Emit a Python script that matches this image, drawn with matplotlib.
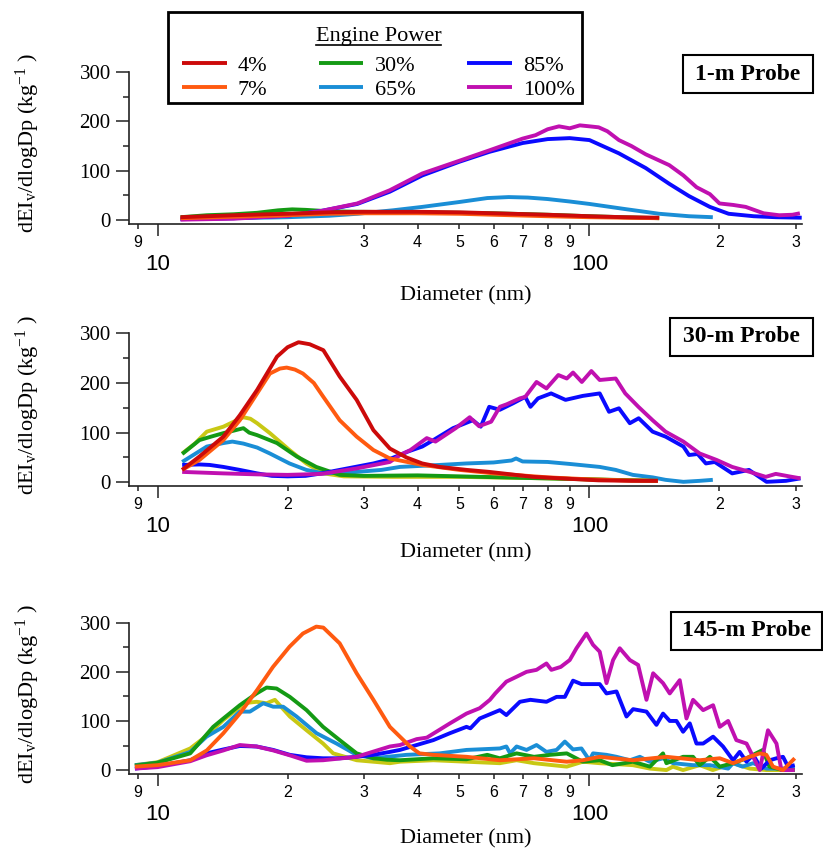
import numpy as np
import matplotlib
matplotlib.use('Agg')
import matplotlib.pyplot as plt
from matplotlib.ticker import FixedLocator, FixedFormatter
from matplotlib.lines import Line2D
from matplotlib.patches import Rectangle

plt.rcParams['font.family'] = ['Liberation Serif', 'DejaVu Serif']
plt.rcParams['mathtext.fontset'] = 'custom'
plt.rcParams['mathtext.rm'] = 'Liberation Serif'
plt.rcParams['mathtext.it'] = 'Liberation Serif:italic'

powers = ['4%', '7%', '30%', '65%', '85%', '100%']
probes = ['1-m Probe', '30-m Probe', '145-m Probe']

# (diameter nm, dEIv/dlogDp) pairs for each engine power
p1_red = [(11.3, 5), (13, 7), (15, 9), (18, 11), (20, 12), (25, 15), (30, 16), (40, 16), (50, 15),
          (60, 13), (80, 10), (100, 7), (120, 5), (145, 4)]
p1_orange = [(11.3, 3), (15, 6), (20, 9), (25, 12), (30, 13), (40, 13), (50, 12), (60, 10), (80, 7),
             (100, 5), (120, 4), (145, 3)]
p1_green = [(11.3, 5), (13, 9), (15, 11), (17, 14), (19, 19), (20.5, 21), (22, 20), (25, 17), (30, 16),
            (40, 15), (50, 14), (60, 13), (80, 10), (100, 7), (120, 5), (145, 3)]
p1_ltblue = [(11.3, 2), (15, 3), (20, 5), (25, 8), (29, 12), (35, 19), (41, 26), (50, 36), (58, 44),
             (65, 46), (72, 45), (80, 42), (90, 37), (100, 32), (120, 22), (145, 12), (170, 7), (193, 5)]
p1_blue = [(11.3, 1), (15, 3), (20, 8), (24, 18), (29, 32), (34.5, 57), (41, 90), (50, 118), (58.6, 138),
           (70, 156), (80, 164), (90, 166), (100, 162), (117, 135), (135, 105), (153, 73), (170, 48),
           (190, 26), (210, 12), (240, 7), (270, 5), (310, 4)]
p1_magenta = [(11.3, 0), (15, 2), (20, 8), (24, 18), (29, 33), (34.5, 60), (41, 94), (50, 120), (58.6, 141),
              (65, 155), (70, 165), (75, 172), (80, 184), (85, 190), (90, 186), (95, 192), (100, 190),
              (105, 188), (110, 180), (117, 162), (125, 150), (135, 133), (153, 111), (165, 90), (177, 66),
              (190, 52), (200, 33), (215, 30), (230, 26), (253, 13), (275, 9), (295, 10), (307, 13)]

p2_red = [(11.4, 25), (12.5, 52), (14.2, 92), (15.5, 135), (17.0, 186), (18.9, 253), (20, 272), (21.2, 282),
          (22.5, 278), (24.2, 266), (26.4, 213), (28.9, 166), (31.6, 105), (34.5, 68), (37.7, 50), (41, 38),
          (45, 31), (52, 25), (58.6, 21), (74, 11), (90, 7), (105, 4), (125, 3), (144, 3)]
p2_orange = [(11.4, 25), (12.5, 45), (14.2, 85), (15.5, 125), (17, 179), (18.2, 219), (19.2, 229),
             (19.9, 231), (20.8, 227), (21.7, 219), (23, 200), (24.2, 172), (26.4, 125), (28.9, 92),
             (31.6, 65), (34.5, 48), (41, 35), (50, 25), (60, 18), (80, 10), (100, 6), (120, 4), (144, 3)]
p2_yellow = [(11.4, 58), (12.2, 78), (13, 102), (14.2, 112), (15, 122), (15.8, 131), (16.4, 128), (17, 119),
             (18.2, 99), (20.2, 65), (22.1, 38), (24.2, 18), (27, 12), (35, 11), (50, 11), (80, 8),
             (110, 5), (144, 3)]
p2_green = [(11.4, 57), (12.5, 85), (13.3, 92), (14.2, 99), (15, 104), (15.8, 109), (16.3, 100), (17, 95),
            (18.9, 79), (21, 52), (23.3, 31), (26.4, 15), (30, 13), (40, 14), (50, 12), (70, 9), (100, 6),
            (144, 3)]
p2_ltblue = [(11.4, 41), (13, 72), (14.2, 79), (14.9, 82), (15.8, 78), (17, 70), (18.2, 58), (20.2, 38),
             (22.1, 25), (24.2, 18), (28, 20), (33, 25), (36.4, 31), (45, 35), (51.9, 38), (60, 40),
             (66, 44), (67.6, 48), (70, 42), (80, 41), (90, 37), (105.6, 31), (115, 25), (126, 15),
             (140, 10), (150, 5), (165, 1), (180, 3), (193, 5)]
p2_blue = [(11.4, 35), (12.5, 36), (13.2, 35), (14.2, 31), (15.5, 25), (17, 18), (18.4, 13), (20, 12),
           (22, 13), (24, 18), (26.4, 25), (31.6, 38), (34, 45), (36.4, 55), (38, 62), (41, 72), (43.5, 85),
           (48.3, 109), (53.7, 125), (56, 112), (58.6, 152), (62, 146), (66.5, 159), (71, 172), (73, 152),
           (76, 169), (81.5, 179), (88, 166), (96.5, 174), (105.6, 179), (111, 142), (117, 149), (124, 119),
           (130, 129), (140, 102), (150, 92), (165, 72), (170, 55), (178, 57), (186, 38), (195, 41),
           (214, 18), (234, 25), (257, 1), (285, 3), (308, 8)]
p2_magenta = [(11.4, 21), (14.2, 18), (17, 16), (20, 15), (24, 17), (28.9, 28), (34.5, 41), (36.4, 55),
              (38.5, 65), (42, 89), (44, 82), (49, 109), (52.8, 131), (55.5, 113), (59.2, 122), (62, 152),
              (64.3, 157), (69, 169), (71, 172), (75.4, 202), (79.5, 189), (84.7, 216), (88.6, 209),
              (91.6, 221), (96, 202), (101, 224), (105.6, 206), (115, 209), (121, 179), (129.8, 152),
              (140, 125), (150, 102), (165, 82), (180, 58), (197, 45), (214, 31), (235, 21), (256, 11),
              (270, 17), (290, 12), (308, 8)]

p3_orange = [(8.86, 7), (10, 10), (11.9, 20), (13, 40), (14.2, 75), (15.5, 115), (17, 163), (18.5, 210),
             (20.2, 251), (21.7, 278), (23.3, 292), (24.2, 290), (26.4, 258), (28.9, 197), (31.6, 143),
             (34.5, 88), (36.4, 68), (38.4, 48), (40.4, 34), (43.5, 31), (51.9, 27), (62, 20), (74.4, 24),
             (88.6, 17), (96.5, 20), (105.6, 27), (126, 20), (150.7, 27), (180, 20), (200.3, 24), (215, 14),
             (235, 27), (247.8, 34), (256.8, 31), (266, 7), (280.6, 0), (298.7, 24)]
p3_yellow = [(8.86, 10), (10, 16), (11.9, 44), (13, 70), (14.2, 102), (15.5, 128), (15.78, 136),
             (16.95, 139), (17.88, 136), (18.69, 143), (20.24, 109), (22.13, 81), (24.16, 54), (25.5, 34),
             (28.9, 20), (34.5, 14), (36.4, 17), (43.5, 20), (51.9, 17), (62, 14), (67.8, 20), (74.4, 14),
             (88.6, 7), (96.5, 17), (105.6, 14), (126, 10), (138, 3), (150.7, 0), (156, 7), (164.7, 0),
             (180, 10), (193, 0), (215, 14), (235, 3), (257, 0), (298.7, 0)]
p3_green = [(8.86, 9), (10, 15), (11.9, 34), (13.45, 88), (14.2, 105), (15.5, 132), (16.95, 156),
            (17.88, 168), (18.86, 166), (20.24, 149), (22.13, 122), (24.16, 88), (26.4, 61), (28.9, 34),
            (31.6, 24), (34, 21), (36.4, 20), (43.5, 24), (51.9, 22), (58, 31), (62, 24), (67.8, 34),
            (74.4, 27), (81, 31), (88.6, 34), (96.5, 17), (105.6, 20), (113, 10), (126, 17), (138, 7),
            (148, 34), (150.7, 14), (164.7, 27), (173.7, 27), (180, 10), (190, 27), (200.3, 7), (215, 14),
            (231, 24), (243, 34), (252, 41), (261, 7), (280.6, 0), (298.7, 0)]
p3_ltblue = [(8.86, 10), (10, 15), (11.9, 37), (12.98, 68), (14.2, 88), (15.5, 119), (16.36, 119),
             (17.56, 136), (18.52, 129), (19.53, 129), (20.98, 109), (23.34, 75), (25.96, 54), (28.88, 31),
             (31.6, 24), (37.7, 31), (45, 34), (51.9, 41), (62, 44), (64.2, 48), (65.5, 34), (67.8, 48),
             (71.5, 41), (75.4, 51), (79.5, 37), (83.9, 41), (87.7, 58), (91.6, 42), (95.8, 44), (100, 20),
             (101.9, 34), (109.5, 31), (115.5, 27), (124, 20), (130.8, 27), (137.9, 17), (148, 24),
             (156.2, 14), (173.7, 10), (189.9, 10), (209.4, 3), (215, 14), (226, 7), (239.3, 14),
             (256.8, 3), (280.6, 3), (298.7, 7)]
p3_blue = [(8.86, 3), (10, 8), (11.9, 20), (12.98, 34), (14.2, 42), (15.5, 49), (16.95, 48), (18.52, 41),
           (20.24, 31), (22.13, 26), (24.16, 24), (26.4, 24), (28.88, 27), (31.6, 31), (34.5, 37),
           (36.4, 41), (43.5, 61), (47.5, 75), (51.9, 88), (53, 85), (55.7, 105), (62, 122), (64.2, 112),
           (69, 139), (73, 143), (79.5, 139), (83.9, 149), (87.7, 149), (91.6, 182), (95.8, 175),
           (105.6, 175), (109.5, 156), (115.5, 160), (121.8, 109), (126.2, 124), (135.5, 119), (142.9, 92),
           (148, 115), (153.4, 100), (159, 100), (164.7, 78), (170.7, 95), (176.9, 54), (183.3, 54),
           (193.3, 68), (203.8, 48), (215, 20), (222.7, 37), (231, 17), (239.3, 31), (250, 3), (261.4, 20),
           (271, 24), (280.6, 27), (288.2, 7), (298.7, 10)]
p3_magenta = [(8.86, 3), (10, 6), (11.9, 18), (12.98, 30), (14.2, 40), (15.5, 51), (16.95, 48), (18.52, 40),
              (20.24, 30), (22.13, 19), (24.16, 20), (28.88, 27), (34.5, 48), (36.4, 51), (39.8, 63),
              (42, 66), (44.2, 78), (47.5, 95), (51.9, 115), (55.7, 126), (58.8, 143), (60.5, 156),
              (64.2, 180), (67.8, 190), (71.5, 200), (75.4, 204), (79.5, 217), (81.6, 204), (85.8, 210),
              (90, 224), (93.3, 248), (98.4, 278), (101.9, 255), (105.6, 241), (109.5, 177), (113.4, 224),
              (117.5, 248), (124, 224), (129.6, 214), (135.5, 143), (140.4, 197), (148, 177), (153.4, 156),
              (161.8, 183), (167.7, 105), (173.7, 143), (183.3, 122), (193.3, 132), (200.3, 88),
              (209.4, 100), (218.8, 61), (231, 54), (247.8, 0), (259, 81), (271, 54), (278.2, 0),
              (298.7, 0)]

RED = '#cc0a0a'
ORANGE = '#ff5a10'
GREEN = '#149a14'
LTBLUE = '#1a8ed6'
BLUE = '#0a0aff'
MAGENTA = '#c010b0'
YELLOW = '#c8c814'

# drawing order, bottom to top
panels = [
    [(p1_ltblue, '65%', LTBLUE), (p1_green, '30%', GREEN), (p1_blue, '85%', BLUE),
     (p1_magenta, '100%', MAGENTA), (p1_orange, '7%', ORANGE), (p1_red, '4%', RED)],
    [(p2_yellow, None, YELLOW), (p2_ltblue, '65%', LTBLUE), (p2_green, '30%', GREEN), (p2_blue, '85%', BLUE),
     (p2_magenta, '100%', MAGENTA), (p2_orange, '7%', ORANGE), (p2_red, '4%', RED)],
    [(p3_yellow, None, YELLOW), (p3_ltblue, '65%', LTBLUE), (p3_green, '30%', GREEN), (p3_blue, '85%', BLUE),
     (p3_magenta, '100%', MAGENTA), (p3_orange, '7%', ORANGE)],
]

W, H = 823, 852
fig = plt.figure(figsize=(W / 100, H / 100), dpi=100)

# axes rectangles in pixels: left, top (300 line), right, bottom spine
rects = [(129.3, 72.3, 801.7, 223.6), (129.3, 333.3, 801.7, 486.3), (129.3, 622.7, 801.7, 774.0)]
boxes = [(682.7, 55.0, 812.7, 93.3), (670.0, 318.0, 813.0, 356.0), (670.7, 611.7, 821.7, 650.0)]
xlabel_y = [-0.416, -0.374, -0.367]
legend_box = (168.3, 11.7, 582.3, 103.3)


def add_box(x0, y0, x1, y1, lw):
    fig.add_artist(Rectangle((x0 / W, 1 - y1 / H), (x1 - x0) / W, (y1 - y0) / H,
                             transform=fig.transFigure, fill=False, lw=lw, ec='black'))


handles = {}
for i, (series, (l, t, r, b)) in enumerate(zip(panels, rects)):
    ax = fig.add_axes([l / W, 1 - b / H, (r - l) / W, (b - t) / H])
    for data, label, color in series:
        d, v = np.array(data, dtype=float).T
        line, = ax.plot(d, v, color=color, lw=2.8, solid_joinstyle='round', solid_capstyle='butt')
        if label and i == 0:
            handles[label] = line

    ax.set_xscale('log')
    ax.set_xlim(8.6, 310)
    ax.set_ylim(-8, 300)
    for side in ['top', 'right']:
        ax.spines[side].set_visible(False)
    for side in ['left', 'bottom']:
        ax.spines[side].set_linewidth(1.2)
        ax.spines[side].set_color('#222222')

    ax.set_yticks([0, 100, 200, 300])
    ax.set_yticks([50, 150, 250], minor=True)
    ax.tick_params(axis='y', which='major', length=9.4, width=1.1, pad=4, labelsize=15, color='#222222')
    ax.tick_params(axis='y', which='minor', length=4, width=1.1, color='#222222')

    ax.xaxis.set_major_locator(FixedLocator([10, 100]))
    ax.xaxis.set_major_formatter(FixedFormatter(['10', '100']))
    minor = [9, 20, 30, 40, 50, 60, 70, 80, 90, 200, 300]
    ax.xaxis.set_minor_locator(FixedLocator(minor))
    ax.xaxis.set_minor_formatter(FixedFormatter([str(m)[0] for m in minor]))
    ax.tick_params(axis='x', which='major', length=8.6, width=1.1, pad=13, labelsize=16,
                   labelfontfamily='Liberation Sans', color='#222222')
    ax.tick_params(axis='x', which='minor', length=3.6, width=1.1, pad=4.3, labelsize=11.5,
                   labelfontfamily='Liberation Sans', color='#222222')

    ax.set_ylabel(r'dEI$_\mathregular{v}$/dlogDp (kg$^\mathregular{-1}$ )', fontsize=16)
    ax.yaxis.set_label_coords(-0.130, 0.53)
    ax.set_xlabel('Diameter (nm)', fontsize=16)
    ax.xaxis.set_label_coords(0.5, xlabel_y[i])

    x0, y0, x1, y1 = boxes[i]
    add_box(x0, y0, x1, y1, 1.5)
    fig.text((x0 + x1) / 2 / W, 1 - (y0 + y1) / 2 / H, probes[i], ha='center', va='center',
             fontsize=17, fontweight='bold')

# legend contents without its own frame; the frame is drawn as a plain box
leg = fig.legend([handles[p] for p in powers], powers, ncol=3, loc='upper left',
                 bbox_to_anchor=(legend_box[0] / W, 1 - (legend_box[1] + 1.5) / H), borderaxespad=0,
                 fontsize=16, title='Engine Power', title_fontsize=16, frameon=False,
                 handlelength=2.0, handletextpad=0.5, columnspacing=2.33, labelspacing=0.16,
                 borderpad=0.62)
leg._legend_box.sep = 6.5
add_box(*legend_box, 2)

# underline the legend title
fig.canvas.draw()
bb = leg.get_title().get_window_extent()
fig.add_artist(Line2D([bb.x0 / W, bb.x1 / W], [(bb.y0 + 1) / H, (bb.y0 + 1) / H],
                      transform=fig.transFigure, color='black', lw=1.2))

fig.savefig('out.png', dpi=100)
